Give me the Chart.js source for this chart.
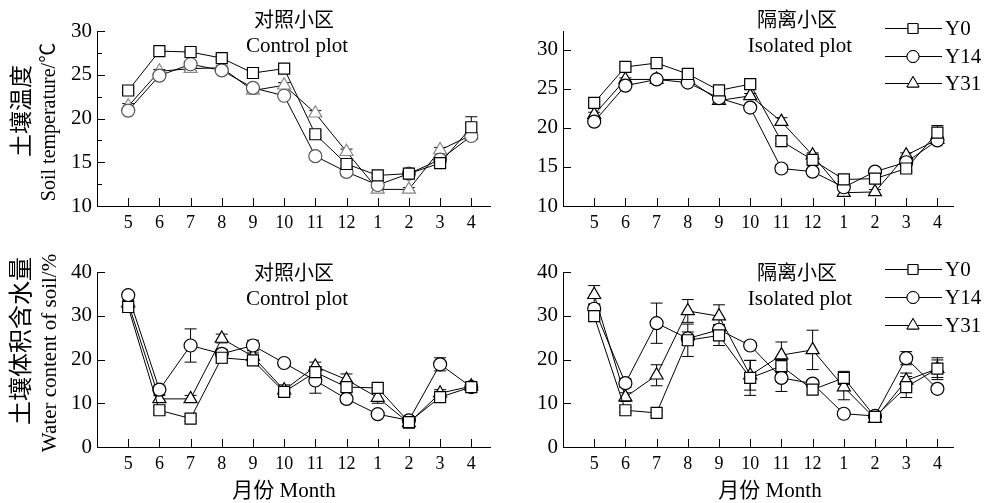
<!DOCTYPE html>
<html>
<head>
<meta charset="utf-8">
<script src="https://cdn.jsdelivr.net/npm/chart.js@4/dist/chart.umd.min.js"></script>
<style>
  body { margin: 0; background: #fff; }
  #wrap { position: relative; width: 984px; height: 503px; }
  #wrap canvas { position: absolute; left: 0; top: 0; }
</style>
</head>
<body>
<div id="wrap">
  <canvas id="c1" width="984" height="503"></canvas>
  <canvas id="c2" width="984" height="503"></canvas>
  <canvas id="c3" width="984" height="503"></canvas>
  <canvas id="c4" width="984" height="503"></canvas>
</div>
<script>
// months, May to April
const months = ['5', '6', '7', '8', '9', '10', '11', '12', '1', '2', '3', '4'];
const seriesNames = ['Y0', 'Y14', 'Y31'];

// soil temperature, control plot
const tempCtrlY0 = [23.2, 27.7, 27.6, 26.9, 25.2, 25.7, 18.2, 14.8, 13.5, 13.7, 14.9, 19.0];
const tempCtrlY14 = [20.9, 24.9, 26.2, 25.5, 23.5, 22.6, 15.7, 13.9, 12.4, 13.7, 15.3, 18.0];
const tempCtrlY31 = [21.4, 25.4, 25.7, 25.8, 23.2, 23.8, 20.6, 16.2, 11.9, 11.9, 16.4, 18.1];
const tempCtrlErrY0 = [0.3, 0.2, 0.2, 0.2, 0.2, 0.2, 0.4, 0.4, 0.2, 0.2, 0.3, 1.2];
const tempCtrlErrY14 = [0.2, 0.2, 0.3, 0.2, 0.3, 0.3, 0.3, 0.2, 0.3, 0.2, 0.2, 0.3];
const tempCtrlErrY31 = [0.3, 0.2, 0.2, 0.2, 0.2, 0.3, 0.3, 0.3, 0.2, 0.2, 0.3, 0.3];

// soil temperature, isolated plot
const tempIsoY0 = [23.2, 27.8, 28.3, 26.9, 24.8, 25.6, 18.3, 15.9, 13.4, 13.5, 14.8, 19.4];
const tempIsoY14 = [20.8, 25.4, 26.2, 25.8, 23.8, 22.6, 14.8, 14.4, 12.4, 14.4, 15.6, 18.4];
const tempIsoY31 = [21.7, 26.2, 26.2, 26.2, 23.5, 24.1, 20.8, 16.5, 11.7, 11.8, 16.5, 18.5];
const tempIsoErrY0 = [0.2, 0.2, 0.2, 0.2, 0.2, 0.2, 0.3, 0.3, 0.3, 0.2, 0.3, 0.9];
const tempIsoErrY14 = [0.3, 0.2, 0.3, 0.2, 0.3, 0.3, 0.5, 0.3, 0.3, 0.2, 0.3, 0.3];
const tempIsoErrY31 = [0.3, 0.2, 0.2, 0.2, 0.3, 0.3, 0.5, 0.3, 0.3, 0.3, 0.3, 0.3];

// soil water content, control plot
const waterCtrlY0 = [32.0, 8.4, 6.5, 20.4, 19.8, 12.6, 17.1, 13.7, 13.5, 5.7, 11.4, 13.7];
const waterCtrlY14 = [34.7, 13.1, 23.2, 21.3, 23.2, 19.2, 15.2, 11.0, 7.5, 6.1, 18.9, 13.7];
const waterCtrlY31 = [32.9, 11.0, 11.0, 24.8, 20.7, 13.0, 18.4, 15.4, 11.3, 5.5, 12.3, 13.9];
const waterCtrlErrY0 = [0.5, 0.8, 0.6, 1.2, 0.8, 1.0, 1.0, 1.0, 0.7, 0.6, 0.7, 0.6];
const waterCtrlErrY14 = [0.8, 1.0, 3.8, 1.0, 1.2, 0.5, 2.9, 0.6, 0.5, 0.6, 1.5, 0.6];
const waterCtrlErrY31 = [0.6, 0.8, 0.8, 1.0, 0.8, 1.2, 1.0, 1.3, 1.3, 1.2, 0.8, 0.8];

// soil water content, isolated plot
const waterIsoY0 = [29.9, 8.4, 7.8, 24.4, 25.5, 15.8, 18.5, 13.1, 15.8, 6.9, 13.7, 17.9];
const waterIsoY14 = [31.6, 14.6, 28.3, 24.8, 26.8, 23.2, 15.8, 14.5, 7.6, 7.1, 20.3, 13.3];
const waterIsoY31 = [34.8, 11.4, 16.4, 31.1, 29.9, 16.4, 21.0, 22.2, 13.7, 6.5, 15.2, 17.9];
const waterIsoErrY0 = [0.8, 0.6, 0.6, 3.7, 2.3, 4.0, 1.5, 0.8, 1.5, 0.6, 2.4, 2.0];
const waterIsoErrY14 = [1.0, 1.0, 4.6, 1.5, 1.2, 0.8, 3.1, 0.8, 0.5, 0.6, 1.5, 0.8];
const waterIsoErrY31 = [2.1, 1.0, 2.4, 2.6, 2.6, 3.4, 3.0, 4.5, 2.9, 0.8, 1.7, 2.5];

const FONT = "'Liberation Serif', 'Noto Sans CJK SC', serif";
const CJK = "'Noto Sans CJK SC', 'Liberation Serif', sans-serif";
Chart.defaults.font.family = FONT;
Chart.defaults.font.size = 19;
Chart.defaults.color = '#000';

const markers = [
  { pointStyle: 'rect', radius: 7.8, legendRadius: 7 },
  { pointStyle: 'circle', radius: 6.5, legendRadius: 6 },
  { pointStyle: 'triangle', radius: 7.5, legendRadius: 7 }
];

// error bars behind markers, inward ticks, titles, legend
const decoPlugin = {
  id: 'deco',
  beforeDatasetsDraw(chart) {
    const ctx = chart.ctx, x = chart.scales.x, y = chart.scales.y;
    ctx.save();
    ctx.lineWidth = 1;
    chart.data.datasets.forEach(ds => {
      ctx.strokeStyle = ds.borderColor;
      ds.data.forEach((p, i) => {
        const e = ds.errors[i];
        if (!e) return;
        const px = x.getPixelForValue(p.x);
        const top = y.getPixelForValue(p.y + e), bot = y.getPixelForValue(p.y - e);
        ctx.beginPath();
        ctx.moveTo(px, top); ctx.lineTo(px, bot);
        ctx.moveTo(px - 6, top); ctx.lineTo(px + 6, top);
        ctx.moveTo(px - 6, bot); ctx.lineTo(px + 6, bot);
        ctx.stroke();
      });
    });
    ctx.restore();
  },
  afterDraw(chart, args, o) {
    const ctx = chart.ctx, x = chart.scales.x, y = chart.scales.y;
    const a = chart.chartArea;
    ctx.save();
    ctx.strokeStyle = '#000';
    ctx.lineWidth = 1;
    ctx.beginPath();
    months.forEach((m, i) => {
      const px = Math.round(x.getPixelForValue(i)) + 0.5;
      ctx.moveTo(px, a.bottom); ctx.lineTo(px, a.bottom - 8);
    });
    for (let v = o.yMin; v <= o.yMax + 1e-6; v += o.yStep) {
      const py = Math.round(y.getPixelForValue(v)) + 0.5;
      ctx.moveTo(a.left, py); ctx.lineTo(a.left + 8, py);
    }
    if (o.minor) {
      for (let v = o.yMin + o.minor; v < o.yMax; v += o.yStep) {
        const py = Math.round(y.getPixelForValue(v)) + 0.5;
        ctx.moveTo(a.left, py); ctx.lineTo(a.left + 5, py);
      }
    }
    ctx.stroke();

    ctx.textAlign = 'center';
    ctx.textBaseline = 'middle';
    ctx.font = '20px ' + CJK;
    ctx.fillText(o.titleZh, o.titleX, o.titleY);
    ctx.font = '21px ' + FONT;
    ctx.fillText(o.titleEn, o.titleX + 3, o.titleY + 27);

    if (o.xLabel) {
      ctx.font = '21px ' + FONT;
      ctx.fillText(o.xLabel, o.xLabelX, 491);
    }
    if (o.yLabelZh) {
      ctx.save();
      ctx.translate(20, o.yLabelZhY);
      ctx.rotate(-Math.PI / 2);
      ctx.font = o.yLabelZhSize + 'px ' + CJK;
      ctx.fillText(o.yLabelZh, 0, 0);
      ctx.restore();
      ctx.save();
      ctx.translate(50, o.yLabelEnY);
      ctx.rotate(-Math.PI / 2);
      ctx.font = o.yLabelEnSize + 'px ' + FONT;
      ctx.fillText(o.yLabelEn, 0, 0);
      ctx.restore();
    }
    if (o.legendY) {
      ctx.textAlign = 'left';
      ctx.font = '21px ' + FONT;
      seriesNames.forEach((name, i) => {
        const ly = o.legendY[i] + 0.5;
        ctx.beginPath();
        ctx.moveTo(885, ly); ctx.lineTo(942, ly);
        ctx.stroke();
        ctx.fillStyle = '#fff';
        Chart.helpers.drawPoint(ctx, {
          pointStyle: markers[i].pointStyle, radius: markers[i].legendRadius,
          rotation: 0, borderWidth: 1
        }, 913, ly);
        ctx.fill();
        ctx.stroke();
        ctx.fillStyle = '#000';
        ctx.fillText(name, 945, ly + 1);
      });
    }
    ctx.restore();
  }
};

function makePanel(id, area, yMin, yMax, yStep, xMax, values, errors, colors, deco) {
  const datasets = values.map((vals, s) => ({
    label: seriesNames[s],
    data: vals.map((v, i) => ({ x: i, y: v })),
    errors: errors[s],
    borderColor: '#000',
    borderWidth: 1,
    pointStyle: markers[s].pointStyle,
    pointRadius: markers[s].radius,
    pointBackgroundColor: '#fff',
    pointBorderColor: colors[s],
    pointBorderWidth: 1.2,
    tension: 0
  }));
  deco.yMin = yMin; deco.yMax = yMax; deco.yStep = yStep;
  const yW = 60, xH = 34;
  return new Chart(document.getElementById(id), {
    type: 'line',
    data: { datasets },
    plugins: [decoPlugin],
    options: {
      responsive: false,
      animation: false,
      devicePixelRatio: 1,
      layout: {
        padding: { left: area[0] - yW, top: area[1], right: 984 - area[2], bottom: 503 - area[3] - xH }
      },
      plugins: { legend: { display: false }, tooltip: { enabled: false }, deco },
      scales: {
        x: {
          type: 'linear', min: -1, max: xMax,
          afterFit: s => { s.height = xH; },
          grid: { display: false, drawTicks: false },
          border: { display: true, color: '#000', width: 1 },
          ticks: {
            stepSize: 1, autoSkip: false, maxRotation: 0, padding: 6, includeBounds: false,
            font: { size: 18 },
            callback: v => (Number.isInteger(v) && v >= 0 && v < months.length) ? months[v] : ''
          }
        },
        y: {
          min: yMin, max: yMax,
          afterFit: s => { s.width = yW; },
          grid: { display: false, drawTicks: false },
          border: { display: true, color: '#000', width: 1 },
          ticks: {
            stepSize: yStep, padding: 5, includeBounds: false,
            font: { size: 21 },
            callback: v => (Math.abs(v / yStep - Math.round(v / yStep)) < 1e-6) ? String(v) : ''
          }
        }
      }
    }
  });
}

makePanel('c1', [97, 31, 490, 206], 10, 30, 5, 11.6,
  [tempCtrlY0, tempCtrlY14, tempCtrlY31],
  [tempCtrlErrY0, tempCtrlErrY14, tempCtrlErrY31],
  ['#000', '#555', '#888'],
  { titleZh: '对照小区', titleEn: 'Control plot', titleX: 294, titleY: 19, minor: 2.5,
    yLabelZh: '土壤温度', yLabelZhY: 111, yLabelZhSize: 23,
    yLabelEn: 'Soil temperature/\u2103', yLabelEnY: 122, yLabelEnSize: 20 });

makePanel('c2', [563, 31, 953, 206], 10, 32.4, 5, 11.5,
  [tempIsoY0, tempIsoY14, tempIsoY31],
  [tempIsoErrY0, tempIsoErrY14, tempIsoErrY31],
  ['#000', '#000', '#000'],
  { titleZh: '隔离小区', titleEn: 'Isolated plot', titleX: 797, titleY: 19,
    legendY: [28, 56, 83] });

makePanel('c3', [97, 272, 490, 447], 0, 40, 10, 11.6,
  [waterCtrlY0, waterCtrlY14, waterCtrlY31],
  [waterCtrlErrY0, waterCtrlErrY14, waterCtrlErrY31],
  ['#000', '#000', '#000'],
  { titleZh: '对照小区', titleEn: 'Control plot', titleX: 294, titleY: 272,
    xLabel: '月份 Month', xLabelX: 284,
    yLabelZh: '土壤体积含水量', yLabelZhY: 341, yLabelZhSize: 24,
    yLabelEn: 'Water content of soil/%', yLabelEnY: 353, yLabelEnSize: 21 });

makePanel('c4', [563, 272, 953, 447], 0, 40, 10, 11.5,
  [waterIsoY0, waterIsoY14, waterIsoY31],
  [waterIsoErrY0, waterIsoErrY14, waterIsoErrY31],
  ['#000', '#000', '#000'],
  { titleZh: '隔离小区', titleEn: 'Isolated plot', titleX: 797, titleY: 272,
    xLabel: '月份 Month', xLabelX: 770,
    legendY: [269, 297, 325] });
</script>
</body>
</html>
